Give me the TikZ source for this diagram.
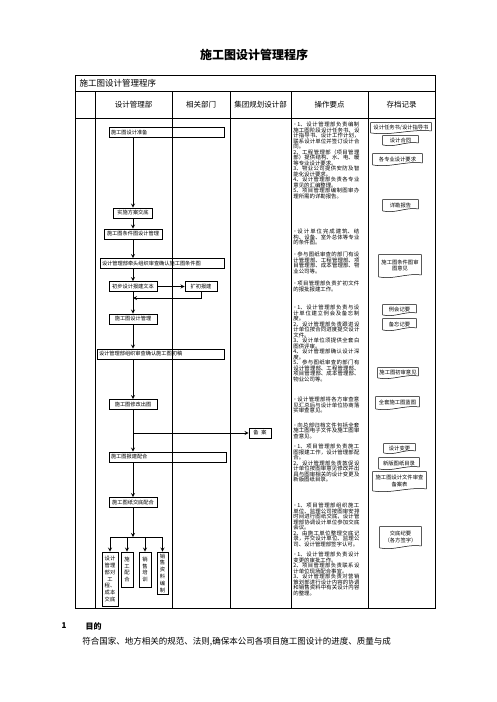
\documentclass[tikz,border=0pt]{standalone}
\usepackage{fontspec}
\setmainfont{Noto Sans CJK SC}
\newfontfamily\symfont{DejaVu Sans}
\XeTeXlinebreaklocale "zh"
\XeTeXlinebreakskip=0pt plus 1.5pt
\usetikzlibrary{calc}
\newcommand\opmark{{\symfont ◦}\,}

\begin{document}
\begin{tikzpicture}[>=stealth,x=1pt,y=-1pt,line width=0.8pt,
  proc/.style={draw,font=\fontsize{5.2}{6}\selectfont,inner xsep=2pt,inner ysep=1pt,minimum height=10pt},
  vbox/.style={draw,font=\fontsize{5.3}{6.8}\selectfont,align=center,inner sep=1pt},
  doc/.style={font=\fontsize{5.3}{6.2}\selectfont,align=center,inner sep=1pt},
  ops/.style={anchor=north west,text width=66pt,align=justify,inner sep=0pt,
    font=\fontsize{5.4}{5.5}\selectfont},
  head/.style={font=\fontsize{7.5}{9}\selectfont}]
\useasboundingbox (0,0) rectangle (496,702);

\node[font=\fontsize{12}{14}\selectfont\bfseries] (title) at (254,55) {施工图设计管理程序};

% table
\draw (75,75) rectangle (435,608);
\draw (75,91) -- (435,91) (75,118) -- (435,118);
\foreach \cx in {95,172,230,291,368} \draw (\cx,91) -- (\cx,608);
\node[font=\fontsize{8.5}{10}\selectfont,anchor=west] (rowtitle) at (76,83) {施工图设计管理程序};
\foreach \cx/\txt/\nm in {133.5/设计管理部/hdept,201/相关部门/hrel,260.5/集团规划设计部/hgroup,329.5/操作要点/hops,401.5/存档记录/hrec}
  \node[head] (\nm) at (\cx,104.5) {\txt};

% flow
\node[proc,text width=111pt,align=left] (prep) at (166.5,132.5) {施工图设计准备};
\node[proc,minimum width=39pt] (plan) at (133,213) {实施方案交底};
\node[proc,minimum width=58pt] (cond) at (133,234) {施工图条件图设计管理};
\node[proc,text width=120pt,align=left] (condrev) at (162,263.5) {设计管理部牵头组织审查确认施工图条件图};
\node[proc,minimum width=48pt] (prelim) at (133,286.5) {初步设计报建文本};
\node[proc,minimum width=32pt] (ext) at (201,286.5) {扩初报建};
\node[proc,minimum width=48pt] (cdm) at (133,319) {施工图设计管理};
\node[proc,text width=123pt,align=left] (draftrev) at (160.5,354) {设计管理部组织审查确认施工图初稿};
\node[proc,minimum width=48pt] (revise) at (133,404.5) {施工图修改出图};
\node[proc,minimum width=22pt] (file) at (260,433) {备\hspace{3pt}案};
\node[proc,text width=113pt,align=left] (permit) at (167.5,457) {施工图报建配合};
\node[proc,minimum width=48pt] (brief) at (133,502.5) {施工图纸交底配合};
\node[vbox,minimum width=16pt,minimum height=54pt] (v1) at (110,579) {设计\\管理\\部对\\工\\程、\\成本\\交底};
\node[vbox,minimum width=12pt,minimum height=35pt] (v2) at (127,569.5) {施\\工\\配\\合};
\node[vbox,minimum width=12pt,minimum height=35pt] (v3) at (145,569.5) {销\\售\\培\\训};
\node[vbox,minimum width=11pt,minimum height=42pt] (v4) at (162.5,573) {销\\售\\资\\料\\编\\制};

\coordinate (trunk) at (133,0);
\coordinate (back) at (133,298);
\coordinate (split) at (133,433);
\coordinate (fork) at (133,537);
\draw[->] (prep.south -| trunk) -- (plan);
\draw[->] (plan) -- (cond);
\draw[->] (cond) -- (condrev.north -| trunk);
\draw[->] (condrev.south -| trunk) -- (prelim);
\draw[->] (prelim) -- (ext);
\draw[->] (ext.south) |- (back);
\draw[->] (prelim) -- (cdm);
\draw[->] (cdm) -- (draftrev.north -| trunk);
\draw[->] (draftrev.south -| trunk) -- (revise);
\draw[->] (revise) -- (permit.north -| trunk);
\draw[->] (split) -- (file);
\draw[->] (permit.south -| trunk) -- (brief);
\draw[->] (brief) -- (fork);
\draw (fork -| v1) -- (fork -| v4);
\foreach \v in {v1,v2,v3,v4} \draw[->] (fork -| \v) -- (\v);

% operation notes
\node[ops] (ops1) at (293,122) {\opmark 1、设计管理部负责编制施工图阶段设计任务书、设计指导书、设计工作计划，联系设计单位并签订设计合同。\\2、工程管理部（项目管理部）提供结构、水、电、暖等专业设计要求。\\3、物业公司提供安防及智能化设计要求。\\4、设计管理部负责各专业意见的汇编整理。\\5、项目管理部编制图审办理所需的详勘报告。};
\node[ops] (ops2) at (293,229) {\opmark 设计单位完成建筑、结构、设备、室外总体等专业的条件图。};
\node[ops] (ops3) at (293,252) {\opmark 参与图纸审查的部门有设计管理部、工程管理部、项目管理部、成本管理部、物业公司等。};
\node[ops] (ops4) at (293,281) {\opmark 项目管理部负责扩初文件的报批报建工作。};
\node[ops] (ops5) at (293,305) {\opmark 1、设计管理部负责与设计单位建立例会及备忘制度。\\2、设计管理部负责跟进设计单位按合同进度提交设计文件。\\3、设计单位须提供全套白图供评审。\\4、设计管理部确认设计深度。\\5、参与图纸审查的部门有设计管理部、工程管理部、项目管理部、成本管理部、物业公司等。};
\node[ops] (ops6) at (293,397) {\opmark 设计管理部将各方审查意见汇总后与设计单位协商落实审查意见。};
\node[ops] (ops7) at (293,422) {\opmark 向总部归档文件包括全套施工图电子文件及施工图审查意见。};
\node[ops] (ops8) at (293,444) {\opmark 1、项目管理部负责施工图报建工作，设计管理部配合。\\2、设计管理部负责敦促设计单位按图审意见修改并出具与图审相关的设计变更及新版图纸目录。};
\node[ops] (ops9) at (293,503) {\opmark 1、项目管理部组织施工单位、监理公司按图审安排时间进行图纸交底，设计管理部协调设计单位参加交底会议。\\2、由施工单位整理交底记录，并交设计单位、监理公司、设计管理部签字认可。};
\node[ops] (ops10) at (293,552) {\opmark 1、设计管理部负责设计变更的审批工作。\\2、项目管理部负责联系设计单位现场配合事宜。\\3、设计管理部负责对营销策划部进行设计内容的协调和销售资料中有关设计内容的整理。};

% records
\node[doc,minimum width=60pt,minimum height=9pt] (taskdoc) at (401,127.5) {设计任务书/设计指导书};
\node[doc,minimum width=35pt,minimum height=8pt] (contract) at (400.5,140) {设计合同};
\node[doc,minimum width=49pt,minimum height=10pt] (require) at (397.5,159) {各专业设计要求};
\node[doc,minimum width=35pt,minimum height=10pt] (survey) at (400.5,205) {详勘报告};
\node[doc,minimum width=42pt,minimum height=21pt] (condop) at (400,265.5) {施工图条件图审\\图意见};
\node[doc,minimum width=33pt,minimum height=9pt] (meeting) at (399.5,309.5) {例会记要};
\node[doc,minimum width=33pt,minimum height=10pt] (memo) at (399.5,324) {备忘记要};
\node[doc,minimum width=40pt,minimum height=9pt] (draftop) at (398,372.5) {施工图初审意见};
\node[doc,minimum width=43pt,minimum height=11pt] (blueprint) at (397.5,402.5) {全套施工图蓝图};
\node[doc,minimum width=31pt,minimum height=8pt] (change) at (399.5,448) {设计变更};
\node[doc,minimum width=40pt,minimum height=10pt] (index) at (399,463) {新版图纸目录};
\node[doc,minimum width=53pt,minimum height=18pt] (register) at (399.5,481) {施工图设计文件审查\\备案表};
\node[doc,minimum width=41pt,minimum height=20pt] (minutes) at (400.5,537) {交底纪要\\（各方签字）};
\foreach \d in {taskdoc,contract,require,survey,condop,meeting,memo,draftop,blueprint,change,index,register,minutes}
  \draw[line width=0.5pt] (\d.north west) -- (\d.north east) -- ([yshift=1.5pt]\d.south east)
    .. controls ($(\d.south east)!0.35!(\d.south west)+(0,-3.5)$) and ($(\d.south east)!0.65!(\d.south west)+(0,3.5)$)
    .. ([yshift=-0.5pt]\d.south west) -- cycle;

% text below
\node[font=\fontsize{8}{9}\selectfont\bfseries,anchor=west] (secno) at (58,626) {1};
\node[font=\fontsize{8}{9}\selectfont\bfseries,anchor=west] (sectitle) at (82,626) {目的};
\node[font=\fontsize{8.5}{10}\selectfont,anchor=west,text width=366pt,align=justify,inner sep=0pt] (purpose) at (82,642)
  {\parfillskip=0pt 符合国家、地方相关的规范、法则,确保本公司各项目施工图设计的进度、质量与成};
\end{tikzpicture}
\end{document}
